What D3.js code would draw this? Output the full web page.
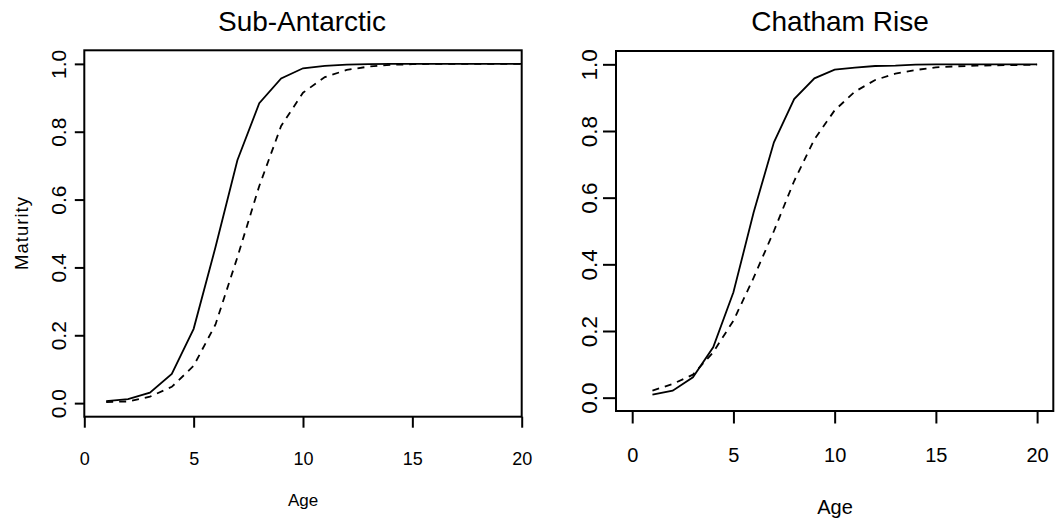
<!DOCTYPE html>
<html>
<head>
<meta charset="utf-8">
<script src="https://cdn.jsdelivr.net/npm/d3@7"></script>
<style>
  html, body { margin: 0; padding: 0; background: #fff; }
  svg { display: block; }
  text { font-family: "Liberation Sans", Arial, Helvetica, sans-serif; fill: #000; }
</style>
</head>
<body>
<svg id="chart" width="1055" height="519"></svg>
<script>
// ---- data ----
const ages = [1, 2, 3, 4, 5, 6, 7, 8, 9, 10, 11, 12, 13, 14, 15, 16, 17, 18, 19, 20];
const subAntarcticSolid  = [0.006, 0.012, 0.031, 0.086, 0.219, 0.46, 0.716, 0.884, 0.957, 0.987, 0.994, 0.998, 0.999, 1, 1, 1, 1, 1, 1, 1];
const subAntarcticDashed = [0.003, 0.005, 0.019, 0.048, 0.11, 0.232, 0.43, 0.64, 0.817, 0.915, 0.961, 0.982, 0.992, 0.997, 0.999, 1, 1, 1, 1, 1];
const chathamSolid  = [0.009, 0.021, 0.061, 0.151, 0.316, 0.556, 0.766, 0.896, 0.958, 0.984, 0.99, 0.995, 0.996, 0.999, 1, 1, 1, 1, 1, 1];
const chathamDashed = [0.021, 0.041, 0.069, 0.136, 0.231, 0.36, 0.5, 0.65, 0.775, 0.862, 0.918, 0.953, 0.972, 0.983, 0.991, 0.994, 0.996, 0.997, 0.998, 0.999];
const panelTitles = ["Sub-Antarctic", "Chatham Rise"];
const xTickValues = [0, 5, 10, 15, 20];
const yTickValues = [0, 0.2, 0.4, 0.6, 0.8, 1.0];
const xLabel = "Age";
const yLabel = "Maturity";

const svg = d3.select("#chart");

const panels = [
  {
    title: panelTitles[0], solid: subAntarcticSolid, dashed: subAntarcticDashed,
    xDomain: [0, 20], xRange: [84.3, 521.7],
    yRange: [416.7, 50.3],
    titleX: 302, xTickFont: 18, yTickFont: 21, tickLen: 11, yTickLen: 9.5, yLabelX: 66, xLabelY: 465,
    ageFont: 17, ageY: 506, ageX: 303, showY: true
  },
  {
    title: panelTitles[1], solid: chathamSolid, dashed: chathamDashed,
    xDomain: [-0.8, 20.8], xRange: [616, 1053.3],
    yRange: [411, 51],
    titleX: 840, xTickFont: 20, yTickFont: 22.5, tickLen: 12.5, yTickLen: 13, yLabelX: 597, xLabelY: 462,
    ageFont: 20, ageY: 514, ageX: 835, showY: false
  }
];

panels.forEach(p => {
  const x = d3.scaleLinear().domain(p.xDomain).range(p.xRange);
  const y = d3.scaleLinear().domain([-0.04, 1.04]).range(p.yRange);
  const g = svg.append("g");

  // box
  g.append("rect")
    .attr("x", p.xRange[0]).attr("y", p.yRange[1])
    .attr("width", p.xRange[1] - p.xRange[0])
    .attr("height", p.yRange[0] - p.yRange[1])
    .attr("fill", "none").attr("stroke", "#000").attr("stroke-width", 2);

  // x axis
  const xAxis = g.append("g")
    .attr("transform", `translate(0,${p.yRange[0]})`)
    .call(d3.axisBottom(x).tickValues(xTickValues).tickSize(p.tickLen).tickSizeOuter(0).tickFormat(d3.format("d")));
  xAxis.select(".domain").remove();
  xAxis.selectAll(".tick line").attr("stroke", "#000").attr("stroke-width", 2);
  xAxis.selectAll(".tick text")
    .attr("y", null).attr("dy", null)
    .attr("transform", `translate(0,${p.xLabelY - p.yRange[0]})`)
    .style("font-size", p.xTickFont + "px")
    .style("font-family", '"Liberation Sans", Arial, sans-serif');

  // y axis
  const yAxis = g.append("g")
    .attr("transform", `translate(${p.xRange[0]},0)`)
    .call(d3.axisLeft(y).tickValues(yTickValues).tickSize(p.yTickLen).tickSizeOuter(0).tickFormat(d3.format(".1f")));
  yAxis.select(".domain").remove();
  yAxis.selectAll(".tick line").attr("stroke", "#000").attr("stroke-width", 2);
  yAxis.selectAll(".tick text")
    .attr("x", null).attr("dy", null)
    .attr("text-anchor", "middle")
    .attr("transform", `translate(${p.yLabelX - p.xRange[0]},0) rotate(-90)`)
    .style("font-size", p.yTickFont + "px")
    .style("font-family", '"Liberation Sans", Arial, sans-serif');

  // lines
  const line = d3.line().x((d, i) => x(ages[i])).y(d => y(d));
  g.append("path").datum(p.solid)
    .attr("d", line).attr("fill", "none").attr("stroke", "#000").attr("stroke-width", 1.8);
  g.append("path").datum(p.dashed)
    .attr("d", line).attr("fill", "none").attr("stroke", "#000").attr("stroke-width", 1.8)
    .attr("stroke-dasharray", "7,6");

  // title
  g.append("text").attr("x", p.titleX).attr("y", 31)
    .attr("text-anchor", "middle").style("font-size", "28px").text(p.title);

  // x label
  g.append("text").attr("x", p.ageX).attr("y", p.ageY)
    .attr("text-anchor", "middle").style("font-size", p.ageFont + "px").text(xLabel);

  if (p.showY) {
    g.append("text")
      .attr("transform", `translate(28,233) rotate(-90)`)
      .attr("text-anchor", "middle").style("font-size", "18.5px")
      .style("letter-spacing", "1px").text(yLabel);
  }
});
</script>
</body>
</html>
